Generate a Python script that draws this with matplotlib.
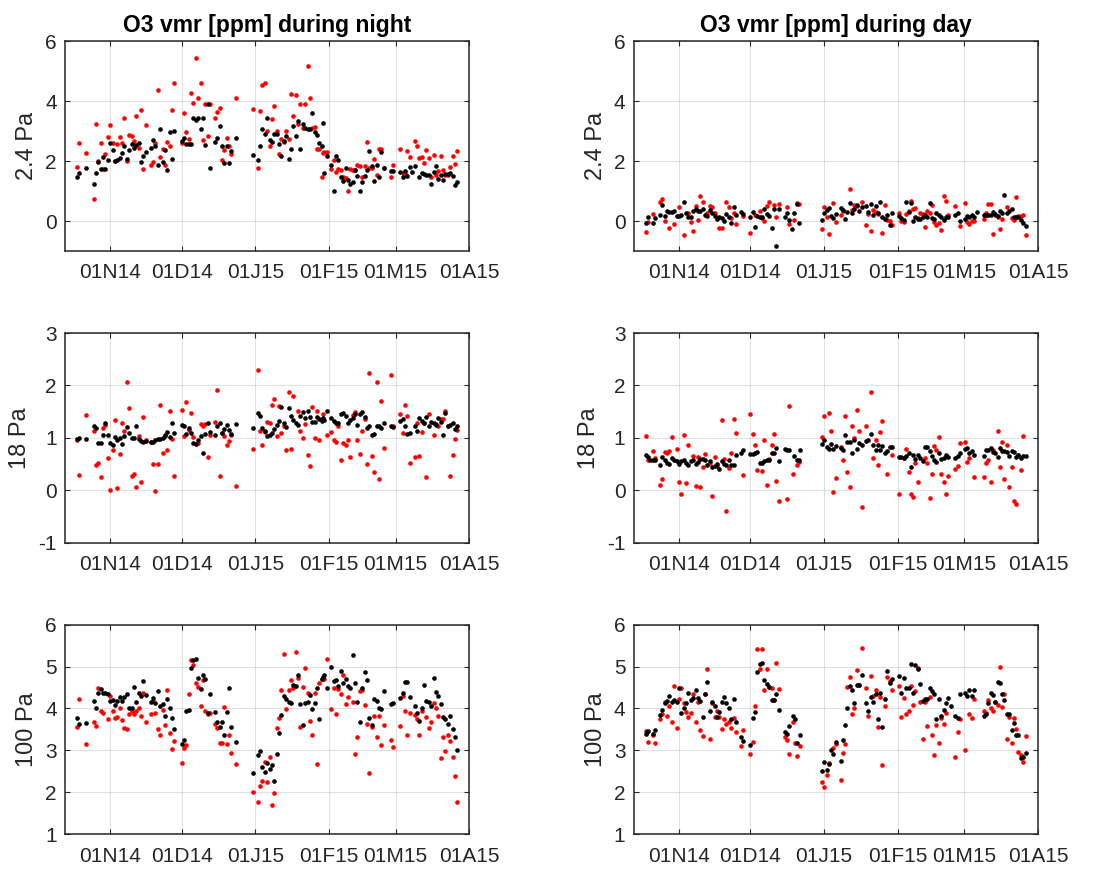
import matplotlib
matplotlib.use("Agg")
import matplotlib.pyplot as plt
from datetime import datetime, timedelta

plt.rcParams['font.family'] = ['Liberation Sans', 'DejaVu Sans']
plt.rcParams['axes.unicode_minus'] = False

# Day offsets are counted from 13 Oct 2014
T0 = datetime(2014, 10, 13)
T_END = datetime(2015, 4, 1)

tick_dates = [datetime(2014, 11, 1), datetime(2014, 12, 1), datetime(2015, 1, 1),
              datetime(2015, 2, 1), datetime(2015, 3, 1), datetime(2015, 4, 1)]
tick_labels = ['01N14', '01D14', '01J15', '01F15', '01M15', '01A15']

column_titles = ['O3 vmr [ppm] during night', 'O3 vmr [ppm] during day']
level_labels = ['2.4 Pa', '18 Pa', '100 Pa']

# ---------------- night, 2.4 Pa ----------------
night_2p4_black_day = [
    5, 6, 9, 12, 13, 14, 15, 16, 17, 18,
    19, 20, 21, 22, 23, 24, 25, 26, 27, 28,
    29, 30, 31, 32, 33, 34, 36, 37, 38, 39,
    40, 41, 42, 43, 44, 45, 46, 49, 50, 51,
    52, 53, 54, 55, 56, 57, 58, 59, 60, 61,
    63, 64, 65, 66, 67, 68, 69, 70, 72, 79,
    81, 82, 83, 84, 85, 86, 87, 88, 89, 90,
    91, 92, 93, 94, 95, 96, 97, 98, 99, 100,
    101, 102, 103, 104, 105, 106, 107, 108, 108.5, 109,
    110, 112, 113, 114, 115, 116, 117, 118, 119, 120,
    121, 122, 123, 124, 125, 126, 127, 128, 129, 130,
    131, 132, 133, 134, 137, 138, 141, 142, 143, 144,
    145, 146, 147, 149, 150, 151, 152, 153, 154, 155,
    156, 157, 158, 159, 160, 161, 162, 163, 164, 165]
night_2p4_black = [
    1.46, 1.59, 1.76, 1.24, 1.60, 1.97, 1.75, 2.13, 1.74, 2.04,
    2.59, 2.36, 1.99, 2.05, 2.09, 2.27, 2.49, 2.08, 2.36, 2.56,
    2.43, 2.53, 2.59, 1.96, 2.18, 2.30, 2.43, 2.71, 2.50, 1.87,
    3.06, 1.97, 2.36, 1.71, 2.98, 2.07, 3.01, 2.68, 2.77, 2.58,
    2.58, 2.58, 3.43, 3.36, 3.43, 3.08, 3.43, 2.53, 3.92, 1.77,
    2.63, 2.77, 3.16, 2.52, 1.94, 2.50, 1.94, 2.33, 2.77, 2.21,
    2.04, 2.52, 3.07, 2.91, 3.45, 2.70, 2.64, 2.91, 2.89, 2.58,
    2.16, 2.68, 2.84, 2.06, 2.42, 3.17, 2.84, 3.35, 2.42, 3.24,
    3.11, 3.08, 3.06, 3.61, 2.98, 2.87, 2.60, 2.52, 3.27, 1.60,
    2.16, 1.88, 1.01, 2.16, 2.02, 1.47, 1.32, 1.76, 1.37, 1.25,
    1.30, 1.70, 1.49, 0.99, 1.29, 1.49, 1.71, 2.35, 1.85, 1.34,
    1.87, 1.46, 2.31, 1.77, 1.67, 1.67, 1.63, 1.47, 1.67, 1.49,
    1.80, 1.62, 1.85, 1.47, 1.61, 1.57, 1.55, 1.52, 1.22, 1.62,
    1.85, 1.41, 1.52, 1.37, 1.58, 1.56, 1.59, 1.50, 1.19, 1.31]
night_2p4_red_day = [
    5, 6, 9, 12, 13, 14, 15, 16, 17, 18,
    19, 20, 21, 22, 23, 24, 25, 26, 27, 28,
    29, 30, 31, 32, 33, 34, 36, 37, 38, 39,
    40, 41, 42, 43, 44, 45, 46, 49, 50, 51,
    52, 53, 54, 55, 56, 57, 58, 59, 60, 61,
    63, 64, 65, 66, 67, 68, 69, 70, 72, 79,
    81, 82, 83, 84, 85, 86, 87, 88, 89, 90,
    91, 92, 93, 94, 95, 96, 97, 98, 99, 100,
    101, 102, 103, 104, 105, 106, 107, 108, 108.5, 109,
    110, 112, 113, 114, 115, 116, 117, 118, 119, 120,
    121, 122, 123, 124, 125, 126, 127, 128, 129, 130,
    131, 132, 133, 134, 137, 138, 141, 142, 143, 144,
    145, 147, 148, 149, 150, 151, 152, 153, 154, 155,
    156, 157, 158, 159, 160, 161, 162, 163, 164, 165]
night_2p4_red = [
    1.80, 2.60, 2.27, 0.73, 3.23, 1.99, 2.60, 1.74, 2.25, 2.81,
    3.19, 2.59, 1.99, 2.56, 2.82, 2.61, 3.43, 1.99, 2.86, 2.84,
    2.68, 3.49, 2.44, 3.72, 1.75, 3.19, 1.86, 1.97, 2.61, 4.37,
    2.14, 2.41, 1.86, 2.64, 2.49, 3.72, 4.60, 2.60, 3.61, 2.98,
    2.74, 4.27, 3.94, 5.44, 4.11, 4.59, 2.72, 3.92, 2.83, 3.89,
    3.44, 3.65, 3.77, 2.02, 2.37, 2.77, 2.52, 2.24, 4.10, 3.73,
    1.76, 3.68, 4.54, 4.60, 3.02, 2.50, 3.42, 3.84, 3.02, 2.24,
    2.74, 2.64, 3.01, 2.73, 4.24, 3.51, 4.22, 3.25, 3.89, 3.11,
    3.89, 5.18, 4.09, 3.12, 3.14, 2.39, 2.39, 1.48, 2.28, 2.31,
    2.30, 1.72, 2.02, 1.65, 1.74, 1.71, 1.46, 1.42, 0.99, 1.72,
    1.71, 1.71, 1.87, 1.83, 1.47, 1.83, 2.65, 1.77, 1.77, 2.08,
    1.52, 2.42, 2.42, 1.76, 1.46, 1.86, 2.42, 1.61, 1.61, 2.33,
    2.14, 2.67, 2.50, 2.11, 2.13, 1.94, 2.37, 2.11, 1.46, 2.19,
    1.53, 1.66, 2.16, 1.71, 1.52, 1.52, 1.80, 2.16, 1.89, 2.35]

# ---------------- day, 2.4 Pa ----------------
day_2p4_black_day = [
    5, 6, 8, 9, 11, 12, 13, 14, 15, 16,
    17, 18, 19, 20, 21, 22, 23, 24, 25, 26,
    27, 28, 29, 30, 31, 32, 33, 34, 35, 36,
    37, 38, 39, 40, 41, 42, 43, 45, 46, 49,
    50, 51, 52, 53, 54, 55, 56, 57, 58, 59,
    60, 61, 63.5, 64.5, 65.5, 66.5, 67.5, 68.6, 69.6, 79.1,
    80.1, 81.1, 82, 83, 83.9, 85, 87, 87.9, 88.9, 89.9,
    90.9, 91.9, 92.8, 93.8, 94.8, 95.8, 97.8, 98.7, 99.7, 100.7,
    101.7, 102.7, 103.6, 104.6, 105.6, 106.6, 107.6, 108.6, 111.6, 112.6,
    113.6, 114.6, 115.6, 116.5, 117.5, 118.5, 119.5, 120.5, 121.5, 122.4,
    123.4, 124.4, 125.4, 126.4, 127.3, 128.3, 129.3, 130.3, 131.3, 132.3,
    135.3, 136.3, 137.3, 139.3, 140.3, 141.2, 142.2, 143.2, 144.2, 147.1,
    148.1, 149.1, 150.1, 151.1, 152, 153, 154, 155, 155.8, 156.9,
    157.9, 158.9, 159.9, 160.9, 161.8, 162.8, 163.8, 164.8]
day_2p4_black = [
    -0.06, 0.15, -0.06, 0.09, 0.20, 0.54, 0.17, 0.35, 0.29, 0.30,
    0.32, 0.17, 0.18, 0.21, 0.62, 0.26, 0.15, 0.12, 0.34, 0.41,
    0.34, 0.35, 0.39, 0.21, 0.17, 0.37, 0.26, 0.17, 0.08, 0.15,
    0.10, -0.01, 0.24, 0.15, -0.06, 0.46, 0.19, 0.29, 0.24, 0.13,
    0.29, -0.20, 0.17, 0.15, 0.12, 0.41, 0.22, 0.17, -0.25, 0.39,
    -0.84, 0.39, 0.12, 0.26, 0.03, -0.28, 0.28, 0.57, -0.08, 0.03,
    0.26, 0.37, 0.43, 0.17, 0.10, 0.24, 0.45, 0.37, 0.07, 0.29,
    0.59, 0.26, 0.39, 0.55, 0.35, 0.46, 0.50, 0.30, 0.58, 0.19,
    0.50, 0.28, 0.64, 0.12, 0.06, 0.20, -0.15, 0.28, 0.17, 0.10,
    0.03, 0.65, 0.29, 0.59, 0.01, 0.12, 0.08, 0.07, 0.15, 0.19,
    0.15, 0.59, 0.11, 0.06, 0.26, 0.21, 0.15, 0.03, 0.15, 0.13,
    0.19, 0.28, -0.01, 0.08, 0.17, 0.12, 0.19, 0.15, 0.30, 0.21,
    0.21, 0.19, 0.21, 0.30, 0.22, 0.16, 0.34, 0.26, 0.88, 0.28,
    0.32, 0.41, 0.15, 0.12, 0.15, 0.02, -0.08, -0.16]
day_2p4_red_day = [
    5, 6, 8, 11, 12, 13, 15, 17, 19, 21,
    23, 24, 25, 26, 27, 28, 29, 31, 32, 33,
    34, 36, 37, 39, 40, 41, 42, 43, 46, 49,
    51, 53, 54, 55, 56, 57, 59, 60, 61, 64.5,
    65.5, 67.5, 68.6, 69.6, 79.1, 80.1, 81.1, 82, 83.9, 85,
    87, 87.9, 90.9, 91.9, 92.8, 93.8, 95.8, 97.8, 98.7, 99.7,
    100.7, 101.7, 102.7, 104.6, 105.6, 106.6, 107.6, 108.6, 111.6, 112.6,
    113.6, 114.6, 115.6, 116.5, 117.5, 118.5, 119.5, 120.5, 121.5, 122.4,
    123.4, 124.4, 125.4, 126.4, 127.3, 128.3, 129.3, 130.3, 131.3, 132.3,
    135.3, 137.3, 139.3, 140.3, 141.2, 142.2, 143.2, 147.1, 148.1, 149.1,
    150.1, 151.1, 152, 153, 154, 155, 156.9, 158.9, 159.9, 160.9,
    161.8, 162.8, 163.8, 164.8]
day_2p4_red = [
    -0.36, -0.03, 0.24, 0.65, 0.74, 0.01, -0.24, -0.10, 0.48, -0.48,
    0.26, -0.03, -0.32, 0.50, 0.02, 0.85, 0.63, 0.26, 0.50, 0.46,
    0.26, -0.22, -0.22, 0.63, 0.48, 0.10, 0.26, -0.11, 0.17, -0.40,
    0.20, 0.32, 0.09, 0.01, 0.50, 0.62, 0.55, 0.15, 0.57, 0.46,
    -0.10, 0.03, 0.59, 0.58, -0.28, 0.46, 0.12, -0.45, 0.59, -0.03,
    0.19, 0.35, 1.08, 0.37, 0.55, 0.50, 0.65, -0.12, 0.22, -0.32,
    0.37, 0.31, 0.25, -0.41, 0.55, 0.03, 0.01, -0.12, 0.26, -0.01,
    -0.03, 0.25, 0.34, 0.68, 0.39, 0.44, 0.10, 0.26, 0.25, -0.19,
    0.35, 0.26, 0.55, -0.03, -0.13, -0.06, -0.30, 0.82, 0.66, 0.19,
    0.50, -0.16, 0.59, -0.02, -0.10, 0.01, 0.00, 0.06, 0.26, 0.58,
    0.57, -0.44, 0.21, 0.12, -0.27, 0.06, 0.46, 0.09, 0.03, 0.80,
    0.17, 0.17, 0.19, -0.47]

# ---------------- night, 18 Pa ----------------
night_18_black_day = [
    5, 6, 9, 12, 13, 14, 15, 16, 17, 18,
    19, 20, 21, 22, 23, 24, 25, 26, 27, 28,
    29, 30, 31, 32, 33, 34, 36, 37, 38, 39,
    40, 41, 42, 43, 44, 45, 46, 49, 50, 51,
    52, 53, 54, 55, 56, 57, 58, 59, 60, 61,
    63, 64, 65, 66, 67, 68, 69, 70, 72, 79,
    81, 82, 83, 84, 85, 86, 87, 88, 89, 90,
    91, 92, 93, 94, 95, 96, 97, 98, 99, 100,
    101, 102, 103, 104, 105, 106, 107, 108, 108.5, 109,
    110, 112, 113, 114, 115, 116, 117, 118, 119, 120,
    121, 122, 123, 124, 125, 126, 127, 128, 129, 130,
    131, 132, 133, 134, 137, 138, 141, 142, 143, 144,
    145, 147, 148, 149, 150, 151, 152, 153, 154, 155,
    156, 157, 158, 159, 160, 161, 162, 163, 164, 165]
night_18_black = [
    0.98, 0.99, 0.97, 1.22, 1.18, 0.91, 0.91, 1.05, 1.28, 1.05,
    0.91, 0.86, 1.01, 0.95, 0.99, 0.88, 1.03, 1.20, 1.10, 0.99,
    0.99, 1.22, 0.97, 0.94, 0.93, 0.94, 0.92, 0.93, 0.95, 0.97,
    0.97, 0.99, 1.06, 1.11, 1.02, 1.28, 1.09, 1.25, 1.22, 1.08,
    1.19, 1.09, 0.91, 0.88, 0.95, 1.03, 0.72, 1.08, 1.29, 1.12,
    1.06, 1.22, 1.29, 1.10, 1.17, 1.25, 1.15, 1.08, 1.27, 1.18,
    1.48, 1.41, 1.18, 1.14, 1.04, 1.05, 1.09, 1.17, 1.24, 1.32,
    1.59, 1.28, 1.20, 1.57, 1.41, 1.34, 1.29, 1.24, 1.41, 1.50,
    1.38, 1.52, 1.39, 1.31, 1.30, 1.39, 1.36, 1.32, 1.38, 1.34,
    1.52, 1.37, 1.33, 1.28, 1.29, 1.46, 1.48, 1.41, 1.29, 1.34,
    1.38, 1.46, 1.25, 1.46, 1.50, 1.39, 1.18, 1.22, 1.06, 1.07,
    1.22, 1.22, 1.19, 1.28, 1.23, 1.21, 1.33, 1.36, 1.23, 1.08,
    1.10, 1.22, 1.14, 1.37, 1.32, 1.29, 1.39, 1.22, 1.31, 1.28,
    1.25, 1.37, 1.31, 1.06, 1.47, 1.23, 1.24, 1.28, 1.17, 1.23]
night_18_red_day = [
    5, 6, 9, 12, 13, 14, 15, 16, 17, 18,
    19, 20, 21, 22, 23, 24, 25, 26, 27, 28,
    29, 30, 31, 32, 33, 34, 36, 37, 38, 39,
    40, 41, 42, 43, 44, 45, 46, 49, 50, 51,
    52, 53, 54, 55, 56, 57, 58, 59, 60, 61,
    63, 64, 65, 66, 67, 68, 69, 70, 72, 79,
    81, 82, 83, 84, 85, 86, 87, 88, 89, 90,
    91, 92, 93, 94, 95, 96, 98, 99, 100, 101,
    102, 103, 104, 105, 106, 107, 108, 108.5, 110, 112,
    113, 114, 115, 116, 117, 118, 119, 120, 121, 122,
    123, 124, 125, 126, 127, 128, 129, 130, 131, 132,
    133, 134, 137, 138, 141, 142, 143, 144, 145, 147,
    148, 149, 150, 151, 152, 153, 155, 156, 157, 158,
    159, 160, 161, 162, 163, 164, 165]
night_18_red = [
    0.96, 0.29, 1.44, 1.13, 0.49, 0.52, 0.25, 1.18, 1.25, 0.61,
    0.01, 0.76, 1.35, 0.04, 0.69, 1.29, 1.14, 2.06, 1.57, 0.27,
    0.31, 0.07, 1.04, 0.15, 1.39, 0.95, 0.93, 0.50, -0.01, 0.50,
    1.63, 0.71, 1.03, 0.76, 1.52, 0.98, 0.28, 1.54, 1.03, 1.69,
    1.15, 1.47, 1.01, 0.88, 0.90, 1.27, 1.23, 1.26, 0.64, 1.06,
    1.31, 1.92, 0.27, 1.09, 1.03, 0.86, 0.94, 1.05, 0.08, 0.78,
    2.30, 1.13, 0.86, 1.11, 1.30, 1.29, 1.62, 1.75, 1.03, 1.60,
    1.10, 1.22, 0.77, 1.87, 0.78, 1.80, 1.51, 1.13, 1.00, 1.26,
    0.68, 0.46, 1.59, 1.00, 1.51, 0.95, 1.36, 1.46, 1.05, 1.11,
    0.96, 0.92, 1.23, 0.57, 0.90, 0.86, 0.96, 0.64, 1.44, 1.49,
    0.95, 0.69, 1.14, 1.36, 0.51, 2.23, 0.66, 0.35, 2.06, 0.22,
    1.70, 0.81, 2.19, 1.23, 1.46, 1.09, 1.62, 1.42, 0.52, 0.63,
    1.28, 0.66, 1.11, 1.28, 0.26, 1.46, 1.05, 1.27, 1.22, 1.36,
    1.36, 1.52, 1.22, 0.28, 0.67, 0.98, 1.15]

# ---------------- day, 18 Pa ----------------
day_18_black_day = [
    5, 6, 7, 8, 9, 11, 12, 13, 14, 15,
    16, 17, 18, 19, 20, 21, 22, 23, 24, 25,
    26, 27, 28, 29, 30, 31, 32, 33, 34, 35,
    36, 37, 38, 39, 40, 41, 42, 43, 45, 46,
    49, 50, 51, 52, 53, 54, 55, 56, 57, 58,
    59, 60, 61, 63.5, 64.5, 65.5, 67.5, 68.6, 69.6, 70,
    79.1, 80.1, 81.1, 82, 83, 83.9, 85, 87, 87.9, 88.9,
    89.9, 90.9, 91.9, 92.8, 93.8, 94.8, 95.8, 97.8, 98.7, 99.7,
    100.7, 101.7, 102.7, 103.6, 104.6, 105.6, 106.6, 107.6, 108.6, 111.6,
    112.6, 113.6, 114.6, 115.6, 116.5, 117.5, 118.5, 119.5, 120.5, 121.5,
    122.4, 123.4, 124.4, 125.4, 126.4, 127.3, 128.3, 129.3, 130.3, 131.3,
    132.3, 135.3, 136.3, 137.3, 139.3, 140.3, 141.2, 142.2, 143.2, 147.1,
    148.1, 149.1, 150.1, 151.1, 152, 153, 154, 155, 155.8, 156.9,
    157.9, 158.9, 159.9, 160.9, 161.8, 162.8, 163.8, 164.8]
day_18_black = [
    0.68, 0.64, 0.57, 0.57, 0.58, 0.48, 0.64, 0.58, 0.53, 0.50,
    0.62, 0.58, 0.55, 0.50, 0.55, 0.57, 0.53, 0.49, 0.55, 0.57,
    0.50, 0.54, 0.59, 0.59, 0.57, 0.48, 0.55, 0.45, 0.46, 0.50,
    0.40, 0.55, 0.50, 0.48, 0.58, 0.49, 0.49, 0.67, 0.72, 0.76,
    0.70, 0.70, 0.72, 0.73, 0.52, 0.52, 0.55, 0.57, 0.57, 0.72,
    0.72, 0.81, 0.55, 0.78, 0.77, 0.77, 0.66, 0.57, 0.58, 0.76,
    0.89, 0.95, 0.83, 0.78, 0.89, 0.78, 0.85, 0.81, 0.76, 1.05,
    0.92, 0.92, 0.72, 0.96, 0.78, 0.91, 0.86, 0.94, 0.96, 1.08,
    0.86, 0.77, 0.86, 0.77, 0.85, 0.72, 0.75, 0.83, 0.82, 0.64,
    0.64, 0.62, 0.66, 0.72, 0.44, 0.68, 0.59, 0.68, 0.62, 0.55,
    0.83, 0.82, 0.75, 0.66, 0.58, 0.54, 0.71, 0.59, 0.62, 0.68,
    0.64, 0.61, 0.66, 0.71, 0.78, 0.81, 0.72, 0.75, 0.68, 0.66,
    0.77, 0.77, 0.80, 0.73, 0.71, 0.64, 0.80, 0.75, 0.75, 0.73,
    0.66, 0.75, 0.73, 0.64, 0.67, 0.61, 0.66, 0.66]
day_18_red_day = [
    5, 6, 8, 9, 11, 12, 13, 14, 15, 16,
    18, 19, 20, 21, 22, 23, 25, 26, 27, 28,
    29, 30, 32, 33, 34, 35, 37, 38, 39, 40,
    41, 42, 43, 46, 49, 50, 51, 52, 54, 55,
    56, 57, 58, 59, 60, 61, 64.5, 65.5, 67, 68.6,
    69.6, 79.1, 80.1, 82, 83, 83.9, 85, 87, 87.9, 88.9,
    89.9, 90.9, 91.9, 92.8, 93.8, 94.8, 95.8, 97.8, 99.7, 100.7,
    101.7, 102.7, 103.6, 104.6, 106.6, 108.6, 111.6, 113.6, 114.6, 115.6,
    116.5, 117.5, 118.5, 119.5, 122.4, 123.4, 124.4, 125.4, 126.4, 127.3,
    128.3, 129.3, 130.3, 131.3, 132.3, 135.3, 136.3, 137.3, 139.3, 140.3,
    141.2, 143.2, 147.1, 148.1, 149.1, 150.1, 151.1, 153, 154, 155,
    155.8, 156.9, 157.9, 158.9, 159.9, 160.9, 161.8, 162.8, 163.8]
day_18_red = [
    1.03, 0.57, 0.75, 0.61, 0.11, 0.21, 0.73, 0.72, 0.75, 1.01,
    0.78, 0.16, -0.07, 1.05, 0.13, 0.87, 0.66, 0.08, 0.64, 0.07,
    0.44, 0.69, 0.52, -0.11, 0.63, 0.46, 1.34, 0.59, -0.39, 0.42,
    0.71, 1.36, 1.10, 0.29, 1.45, 1.08, 0.87, 0.39, 0.36, 0.96,
    0.10, 0.59, 0.86, 1.08, 0.18, -0.20, -0.16, 1.61, 0.32, 0.49,
    0.54, 1.01, 1.42, 1.48, 1.14, -0.03, 0.24, 0.83, 0.57, 1.41,
    0.34, 0.07, 1.23, 0.99, 1.54, 1.14, -0.31, 1.23, 1.88, 0.61,
    0.95, 0.49, 1.11, 1.32, 0.31, 0.68, -0.08, 0.62, 0.78, 0.34,
    -0.07, -0.12, 0.53, 0.15, 0.62, 0.52, -0.15, 0.31, 0.85, 0.76,
    1.01, 0.32, 0.15, -0.08, 0.27, 0.41, 0.46, 0.90, 0.92, 0.54,
    0.61, 0.25, 0.26, 0.52, 0.57, 0.16, 0.77, 1.14, 0.45, 0.92,
    0.22, 0.86, 0.06, 0.45, -0.20, -0.26, 0.68, 0.39, 1.03]

# ---------------- night, 100 Pa ----------------
night_100_black_day = [
    5, 6, 9, 12, 13, 14, 15, 16, 17, 18,
    19, 20, 21, 22, 23, 24, 25, 26, 27, 28,
    29, 30, 31, 32, 33, 34, 36, 37, 38, 39,
    40, 41, 42, 43, 44, 45, 46, 49, 50, 51,
    52, 53, 54, 55, 56, 57, 58, 59, 60, 61,
    63, 64, 65, 66, 67, 68, 69, 70, 72, 79,
    81, 82, 83, 84, 85, 86, 87, 88, 89, 90,
    91, 92, 93, 94, 95, 96, 97, 98, 99, 100,
    101, 102, 103, 104, 105, 106, 107, 108, 108.5, 109,
    110, 112, 113, 114, 115, 116, 117, 118, 119, 120,
    121, 122, 123, 124, 125, 126, 127, 128, 129, 130,
    131, 132, 133, 134, 137, 138, 141, 142, 143, 144,
    145, 147, 148, 149, 150, 151, 152, 153, 154, 155,
    156, 157, 158, 159, 160, 161, 162, 163, 164, 165]
night_100_black = [
    3.78, 3.63, 3.65, 4.17, 4.02, 4.37, 4.47, 4.37, 4.38, 4.35,
    4.18, 4.21, 4.08, 4.18, 4.27, 4.18, 4.27, 4.35, 4.02, 4.02,
    4.51, 4.15, 4.37, 4.30, 4.65, 4.32, 4.15, 4.26, 4.12, 4.41,
    4.07, 4.10, 3.83, 4.23, 4.00, 3.77, 3.52, 3.15, 3.26, 3.94,
    3.97, 4.97, 5.16, 5.19, 4.73, 4.46, 4.81, 4.71, 3.89, 4.35,
    3.91, 3.67, 3.56, 3.67, 3.37, 3.91, 4.48, 3.55, 3.20, 2.47,
    2.90, 2.99, 2.60, 2.49, 2.71, 2.55, 2.66, 2.27, 2.91, 3.41,
    3.85, 4.30, 4.22, 4.16, 4.13, 4.57, 4.53, 4.79, 4.10, 3.61,
    4.12, 4.15, 4.32, 3.99, 4.13, 4.49, 3.74, 4.71, 4.76, 4.81,
    4.49, 5.00, 4.65, 4.67, 4.54, 4.89, 4.60, 4.70, 4.53, 4.48,
    5.27, 4.60, 4.15, 3.67, 4.49, 4.86, 4.68, 3.78, 3.61, 4.23,
    4.18, 4.00, 3.99, 4.41, 4.10, 4.12, 4.24, 4.37, 4.62, 4.62,
    4.27, 4.07, 3.89, 3.70, 4.00, 4.56, 4.19, 4.16, 4.07, 4.73,
    4.40, 4.29, 4.10, 3.80, 3.74, 3.63, 3.82, 3.52, 3.33, 3.01]
night_100_red_day = [
    5, 6, 9, 12, 13, 14, 15, 16, 18, 19,
    20, 21, 22, 23, 24, 25, 26, 27, 28, 29,
    30, 31, 32, 33, 34, 36, 37, 38, 39, 40,
    41, 42, 43, 44, 45, 46, 49, 50, 51, 52,
    53, 54, 55, 56, 57, 58, 59, 60, 61, 63,
    64, 65, 66, 67, 68, 69, 70, 72, 79, 81,
    82, 83, 84, 85, 86, 87, 88, 89, 90, 91,
    92, 93, 94, 95, 96, 97, 98, 99, 100, 101,
    102, 103, 104, 105, 106, 107, 108, 109, 110, 112,
    113, 114, 115, 116, 117, 118, 119, 121, 122, 123,
    124, 125, 126, 127, 128, 129, 130, 131, 132, 133,
    134, 137, 138, 141, 142, 143, 144, 145, 147, 148,
    149, 150, 152, 153, 154, 155, 156, 157, 158, 159,
    160, 161, 162, 163, 164, 165]
night_100_red = [
    3.55, 4.23, 3.15, 3.67, 3.59, 4.48, 3.93, 3.90, 3.75, 4.29,
    3.94, 3.78, 3.80, 4.02, 3.72, 3.53, 3.50, 3.86, 3.93, 3.86,
    3.94, 4.00, 3.83, 4.37, 3.69, 3.88, 4.18, 3.89, 3.50, 3.38,
    3.97, 3.61, 4.44, 3.42, 3.03, 3.23, 2.71, 3.06, 3.14, 4.34,
    5.16, 5.03, 4.60, 4.51, 4.07, 4.68, 3.94, 3.88, 3.90, 3.64,
    3.53, 3.17, 3.17, 4.04, 3.15, 3.36, 2.93, 2.68, 2.02, 1.77,
    2.16, 2.27, 2.73, 2.24, 2.84, 1.69, 1.99, 3.53, 3.77, 4.43,
    5.29, 3.99, 4.45, 4.68, 4.49, 5.35, 4.73, 3.56, 4.51, 4.97,
    4.38, 3.71, 3.37, 4.37, 2.68, 4.60, 4.71, 4.71, 5.17, 3.99,
    4.49, 3.86, 4.46, 4.35, 4.81, 4.10, 4.27, 4.16, 2.91, 3.31,
    4.41, 4.45, 4.08, 3.64, 2.47, 3.55, 3.82, 3.31, 3.82, 3.14,
    3.61, 3.26, 3.09, 3.58, 4.30, 3.93, 3.36, 3.89, 3.85, 3.74,
    3.36, 3.94, 3.80, 3.53, 3.69, 4.13, 4.00, 3.83, 2.82, 3.31,
    2.98, 3.37, 3.22, 2.84, 2.40, 1.77]

# ---------------- day, 100 Pa ----------------
day_100_black_day = [
    5, 5.5, 6, 8, 9, 11, 12, 13, 14, 15,
    16, 17, 18, 19, 20, 21, 22, 23, 24, 25,
    26, 27, 28, 29, 30, 31, 32, 33, 34, 35,
    36, 37, 38, 39, 40, 41, 42, 43, 45, 46,
    49, 50, 51, 52, 53, 54, 55, 56, 57, 58,
    59, 60, 61, 63.5, 64.5, 65.5, 67, 68, 68.6, 70,
    79.1, 80.1, 81.1, 82, 83, 83.9, 85, 87, 87.9, 88.9,
    89.9, 90.9, 91.9, 92.8, 93.8, 94.8, 95.8, 97.8, 98.7, 99.7,
    100.7, 101.7, 102.7, 103.6, 104.6, 105.6, 106.6, 107.6, 108.6, 111.6,
    112.6, 113.6, 114.6, 115.6, 116.5, 117.5, 118.5, 119.5, 120.5, 121.5,
    122.4, 123.4, 124.4, 125.4, 126.4, 127.3, 128.3, 129.3, 130.3, 131.3,
    132.3, 133.3, 135.3, 136.3, 137.3, 139.3, 140.3, 141.2, 142.2, 143.2,
    147.1, 148.1, 149.1, 150.1, 151.1, 152, 153, 154, 155, 155.8,
    156.9, 157.9, 158.9, 159.9, 160.9, 161.8, 162.8, 163.8, 164.8]
day_100_black = [
    3.39, 3.45, 3.47, 3.39, 3.48, 3.85, 3.97, 4.13, 4.19, 4.30,
    4.16, 4.21, 4.16, 4.48, 3.89, 4.02, 4.13, 4.38, 4.21, 4.26,
    4.43, 4.26, 4.18, 3.80, 4.34, 4.62, 3.94, 4.16, 4.05, 3.80,
    3.91, 4.15, 4.27, 4.14, 4.02, 3.74, 4.23, 3.69, 3.33, 3.22,
    3.14, 3.77, 3.91, 4.86, 5.05, 5.09, 4.67, 4.59, 4.51, 4.21,
    4.21, 4.35, 3.96, 3.45, 3.39, 3.58, 3.82, 3.75, 3.17, 3.36,
    2.51, 2.73, 2.54, 2.68, 3.01, 2.92, 3.20, 2.76, 3.26, 3.61,
    4.02, 4.53, 4.45, 4.13, 4.56, 4.56, 4.81, 4.12, 3.93, 4.27,
    4.16, 4.35, 3.75, 4.38, 3.56, 4.23, 4.89, 4.60, 4.70, 4.78,
    4.38, 4.73, 4.49, 4.49, 5.05, 4.37, 5.03, 4.95, 4.59, 4.19,
    4.23, 4.23, 4.49, 4.41, 4.34, 3.75, 4.23, 3.82, 3.96, 4.12,
    4.24, 4.05, 3.83, 3.77, 4.34, 4.37, 4.30, 4.45, 4.29, 4.45,
    3.83, 3.86, 4.13, 4.38, 4.32, 4.16, 4.64, 4.60, 4.34, 4.21,
    3.88, 3.86, 3.48, 3.66, 3.37, 3.37, 2.81, 2.85, 2.95]
day_100_red_day = [
    5, 6, 8, 9, 11, 12, 13, 14, 15, 16,
    17, 18, 19, 20, 21, 22, 23, 24, 25, 26,
    27, 28, 29, 30, 31, 32, 33, 34, 35, 36,
    37, 38, 39, 40, 41, 42, 43, 45, 46, 49,
    50, 51, 52, 53, 54, 55, 56, 57, 58, 59,
    60, 61, 63.5, 64.5, 65.5, 67, 68, 68.6, 70, 79.1,
    80.1, 81.1, 82, 83.9, 85, 87, 87.9, 88.9, 89.9, 90.9,
    91.9, 92.8, 93.8, 94.8, 95.8, 97.8, 98.7, 99.7, 100.7, 101.7,
    102.7, 103.6, 104.6, 105.6, 106.6, 107.6, 108.6, 111.6, 112.6, 113.6,
    114.6, 115.6, 116.5, 117.5, 118.5, 119.5, 120.5, 121.5, 122.4, 123.4,
    124.4, 125.4, 126.4, 127.3, 128.3, 129.3, 130.3, 131.3, 135.3, 136.3,
    137.3, 139.3, 141.2, 142.2, 143.2, 147.1, 148.1, 149.1, 150.1, 151.1,
    152, 153, 154, 155, 155.8, 156.9, 157.9, 158.9, 159.9, 160.9,
    161.8, 162.8, 163.8, 164.8]
day_100_red = [
    3.47, 3.20, 3.37, 3.17, 3.75, 3.88, 4.15, 3.82, 4.07, 3.67,
    4.54, 3.53, 4.23, 4.48, 4.13, 3.91, 3.80, 3.89, 4.35, 3.69,
    4.15, 3.48, 3.34, 4.35, 4.93, 3.28, 4.12, 3.80, 3.93, 3.80,
    3.52, 3.75, 3.64, 3.67, 3.53, 3.78, 3.45, 3.11, 3.48, 2.92,
    3.20, 4.07, 5.42, 4.95, 5.42, 4.43, 4.95, 4.51, 4.49, 4.21,
    5.08, 4.46, 3.33, 3.25, 2.92, 3.67, 3.17, 2.87, 3.11, 2.24,
    2.13, 2.41, 2.70, 3.06, 3.15, 2.29, 2.93, 3.15, 4.51, 4.75,
    3.88, 4.00, 4.92, 4.56, 5.44, 4.49, 3.83, 4.78, 4.29, 4.43,
    3.55, 4.27, 2.66, 4.05, 4.76, 4.65, 4.45, 4.54, 3.80, 4.26,
    3.88, 3.93, 4.54, 4.08, 4.41, 4.97, 4.16, 3.28, 4.15, 3.58,
    4.27, 3.37, 2.90, 3.61, 3.18, 3.77, 3.63, 3.89, 2.84, 3.44,
    3.74, 3.00, 3.86, 3.78, 4.23, 3.94, 3.89, 4.21, 4.02, 3.94,
    4.16, 4.08, 5.00, 4.04, 4.34, 3.28, 3.80, 3.18, 3.77, 3.50,
    2.96, 2.90, 2.73, 3.34]

panels = [
    [(night_2p4_black_day, night_2p4_black, night_2p4_red_day, night_2p4_red),
     (day_2p4_black_day, day_2p4_black, day_2p4_red_day, day_2p4_red)],
    [(night_18_black_day, night_18_black, night_18_red_day, night_18_red),
     (day_18_black_day, day_18_black, day_18_red_day, day_18_red)],
    [(night_100_black_day, night_100_black, night_100_red_day, night_100_red),
     (day_100_black_day, day_100_black, day_100_red_day, day_100_red)],
]
row_ylim = [(-1, 6), (-1, 3), (1, 6)]
row_yticks = [[0, 2, 4, 6], [-1, 0, 1, 2, 3], [1, 2, 3, 4, 5, 6]]
row_label_x = [-0.066, -0.083, -0.066]

col_left = [0.0591, 0.5761]
row_bottom = [0.7122, 0.3776, 0.0432]
ax_w, ax_h = 0.3675, 0.2405

TXT = '#262626'


def to_dates(days):
    return [T0 + timedelta(days=float(d)) for d in days]


fig = plt.figure(figsize=(11, 8.72), dpi=100)

for r in range(3):
    for c in range(2):
        ax = fig.add_axes([col_left[c], row_bottom[r], ax_w, ax_h])
        bd, bv, rd, rv = panels[r][c]
        ax.scatter(to_dates(rd), rv, s=11, c='r', linewidths=0, zorder=3)
        ax.scatter(to_dates(bd), bv, s=11, c='k', linewidths=0, zorder=4)

        ax.set_xlim(T0, T_END)
        ax.set_xticks(tick_dates)
        ax.set_xticklabels(tick_labels)
        ax.set_ylim(*row_ylim[r])
        ax.set_yticks(row_yticks[r])

        ax.grid(True, color='#262626', alpha=0.17, linewidth=0.6)
        ax.set_axisbelow(True)
        for sp in ax.spines.values():
            sp.set_color(TXT)
            sp.set_linewidth(1.1)
        ax.tick_params(axis='both', direction='in', length=3.5, width=0.8,
                       colors=TXT, labelsize=15, top=True, right=True)
        ax.tick_params(axis='y', pad=6)
        ax.tick_params(axis='x', pad=9)

        ax.set_ylabel(level_labels[r], fontsize=17, color=TXT)
        ax.yaxis.set_label_coords(row_label_x[r], 0.5)
        if r == 0:
            ax.set_title(column_titles[c], fontsize=16.5, fontweight='bold',
                         color='black', pad=7)

fig.savefig('out.png', dpi=100)
